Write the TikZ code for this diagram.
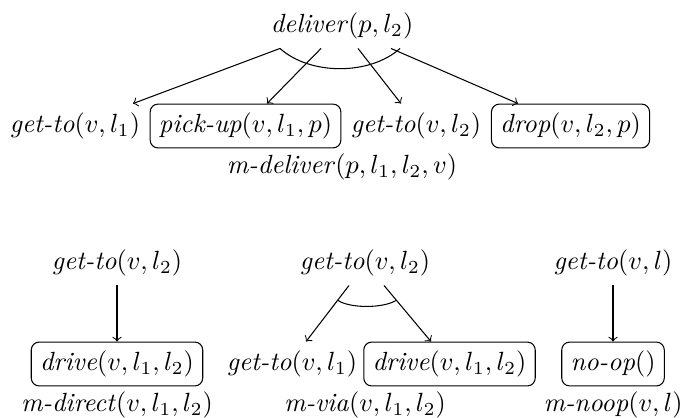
\documentclass[tikz,border=0pt]{standalone}
\usetikzlibrary{calc}
\begin{document}
\begin{tikzpicture}[x=0.38pt,y=-0.38pt,
  lbl/.style={inner sep=3.33pt},
  act/.style={draw,rounded corners=3pt,inner sep=3.33pt},
  arr/.style={->}]
\useasboundingbox (0,0) rectangle (683,417);
% top: deliver
\node[lbl] (dl) at (342,26) {\textit{deliver}$(p,l_2)$};
\node[lbl] (g1) at (75,126) {\textit{get-to}$(v,l_1)$};
\node[act] (pu) at (245.5,126) {\textit{pick-up}$(v,l_1,p)$};
\node[lbl] (g2) at (416,126) {\textit{get-to}$(v,l_2)$};
\node[act] (dr) at (570.5,126) {\textit{drop}$(v,l_2,p)$};
\node[lbl] (md) at (342,167) {\textit{m-deliver}$(p,l_1,l_2,v)$};
\draw[arr] ($(dl.south)+(-62,0)$) -- ($(g1.north)+(58,0)$);
\draw[arr] ($(dl.south)+(-21,0)$) -- ($(pu.north)+(21.5,0)$);
\draw[arr] ($(dl.south)+(16,0)$) -- ($(g2.north)+(-15,0)$);
\draw[arr] ($(dl.south)+(49,0)$) -- ($(dr.north)+(-52.5,0)$);
\draw ($(dl.south)+(-62,0)$) .. controls ($(dl.south)+(-32,27)$) and ($(dl.south)+(28,27)$) .. ($(dl.south)+(58,0)$);
% bottom left: m-direct
\node[lbl] (gA) at (117,263) {\textit{get-to}$(v,l_2)$};
\node[act] (dA) at (117,364) {\textit{drive}$(v,l_1,l_2)$};
\node[lbl] (mA) at (117,405) {\textit{m-direct}$(v,l_1,l_2)$};
\draw[arr] (gA.south) -- (dA.north);
% bottom middle: m-via
\node[lbl] (gB) at (365,263) {\textit{get-to}$(v,l_2)$};
\node[lbl] (g1B) at (292,364) {\textit{get-to}$(v,l_1)$};
\node[act] (dB) at (449.5,364) {\textit{drive}$(v,l_1,l_2)$};
\node[lbl] (mB) at (365,405) {\textit{m-via}$(v,l_1,l_2)$};
\draw[arr] ($(gB.south)+(-16,0)$) -- ($(g1B.north)+(14,0)$);
\draw[arr] ($(gB.south)+(19,0)$) -- ($(dB.north)+(-18.5,0)$);
\draw ($(gB.south)+(-27,15)$) .. controls ($(gB.south)+(-15,23)$) and ($(gB.south)+(18,23)$) .. ($(gB.south)+(31,15)$);
% bottom right: m-noop
\node[lbl] (gC) at (613,263) {\textit{get-to}$(v,l)$};
\node[act] (nC) at (613,364) {\textit{no-op}$()$};
\node[lbl] (mC) at (613,405) {\textit{m-noop}$(v,l)$};
\draw[arr] (gC.south) -- (nC.north);
\end{tikzpicture}
\end{document}
